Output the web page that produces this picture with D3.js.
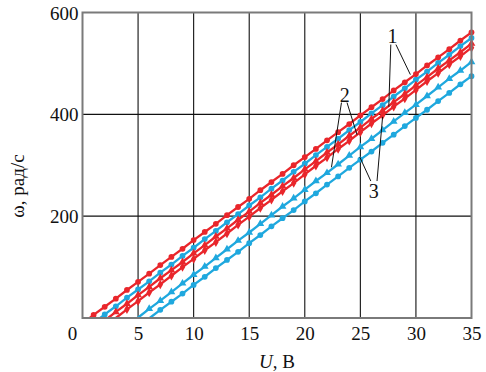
<!DOCTYPE html>
<html><head><meta charset="utf-8">
<script src="https://cdn.jsdelivr.net/npm/d3@7/dist/d3.min.js"></script>
<style>
body{margin:0;background:#fff}
</style>
</head><body>
<svg id="c" width="486" height="372"></svg>
<script>
// ---- data ----
const xTicks = [5, 10, 15, 20, 25, 30, 35];
const yTicks = [200, 400, 600];
const voltage = [1,2,3,4,5,6,7,8,9,10,11,12,13,14,15,16,17,18,19,20,21,22,23,24,25,26,27,28,29,30,31,32,33,34,35];
// speed (rad/s) at each voltage; null = below zero
const red1  = [6,22,38,55,71,87,104,120,136,153,169,185,202,218,234,251,267,283,300,316,332,349,365,381,398,414,430,447,463,479,496,512,528,545,561];
const blue1 = [null,7,23,40,56,72,89,105,122,138,155,171,188,204,221,237,254,270,287,303,320,336,352,369,385,402,418,435,451,468,484,501,517,534,550];
const red2  = [null,null,12,28,45,61,78,94,110,127,143,160,176,193,209,226,242,259,275,292,308,325,341,358,374,391,407,424,440,457,473,490,506,522,539];
const red3  = [null,null,0,17,33,50,66,83,100,116,133,149,166,183,199,216,232,249,265,282,299,315,332,348,365,382,398,415,431,448,465,481,498,514,531];
const blue2 = [null,null,null,null,null,18,34,51,68,85,101,118,135,152,168,185,202,219,235,252,269,285,302,319,336,352,369,386,403,419,436,453,470,486,503];
const blue3 = [null,null,null,null,null,null,16,32,48,65,81,98,114,130,147,163,180,196,212,229,245,262,278,295,311,327,344,360,377,393,409,426,442,459,475];
// voltage where each curve leaves the zero line
const zeroU = {red1:0.65, blue1:1.6, red2:2.3, red3:3.0, blue2:4.95, blue3:6.05};
// curve labels and leader lines (data units)
const labelText = ["1","2","3"];
const labelU = [27.9, 23.6, 26.2];
const labelW = [553, 438, 249];
const leaderFromU = [[27.74,28.2],[23.3,23.8],[25.94,26.5]];
const leaderFromW = [[537,537],[423,423],[269,269]];
const leaderToU = [[27.56,29.5],[22.4,24.7],[24.95,27.0]];
const leaderToW = [[415,478],[296,360],[316,395]];

// ---- chart ----
const FONT = "Liberation Serif";
const svg = d3.select("#c");
const x = d3.scaleLinear().domain([0,35]).range([82.5,471.5]);
const y = d3.scaleLinear().domain([0,600]).range([318,12.5]);
const RED = "#e9262b", BLUE = "#1fa8de";

// grid
const g = svg.append("g");
g.selectAll("line.vx").data(xTicks.slice(0,-1)).join("line")
  .attr("x1",d=>x(d)).attr("x2",d=>x(d)).attr("y1",y(0)).attr("y2",y(600))
  .attr("stroke","#111").attr("stroke-width",1.1);
g.selectAll("line.hy").data(yTicks.slice(0,-1)).join("line")
  .attr("x1",x(0)).attr("x2",x(35)).attr("y1",d=>y(d)).attr("y2",d=>y(d))
  .attr("stroke","#111").attr("stroke-width",1.1);

// axes
const xAxis = d3.axisBottom(x).tickValues(xTicks).tickSize(0).tickPadding(6);
const xa = svg.append("g").attr("transform",`translate(0,${y(0)})`).call(xAxis);
xa.attr("font-family",FONT).attr("font-size",19);
xa.select(".domain").remove();
xa.selectAll("text").attr("dy","0.85em").attr("fill","#111");
const yAxis = d3.axisLeft(y).tickValues(yTicks).tickSize(0).tickPadding(4);
const ya = svg.append("g").attr("transform",`translate(${x(0)},0)`).call(yAxis);
ya.attr("font-family",FONT).attr("font-size",19);
ya.select(".domain").remove();
ya.selectAll("text").attr("dy","0.35em").attr("fill","#111");
svg.append("text").attr("x",x(0)-10).attr("y",y(0)+6).attr("dy","0.85em")
  .attr("text-anchor","middle").attr("font-size",19).attr("font-family",FONT).attr("fill","#111").text("0");

// series
const series = [
  {name:"blue1", vals:blue1, color:BLUE, shape:d3.symbolCircle},
  {name:"blue2", vals:blue2, color:BLUE, shape:d3.symbolTriangle},
  {name:"blue3", vals:blue3, color:BLUE, shape:d3.symbolCircle},
  {name:"red3", vals:red3, color:RED, shape:d3.symbolDiamond},
  {name:"red2", vals:red2, color:RED, shape:d3.symbolTriangle},
  {name:"red1", vals:red1, color:RED, shape:d3.symbolCircle}
];
const line = d3.line().x(d=>x(d[0])).y(d=>y(d[1]));
series.forEach(s=>{
  const pts = voltage.map((u,i)=>[u,s.vals[i]]).filter(p=>p[1]!==null && p[0]>zeroU[s.name]);
  const full = [[zeroU[s.name],0]].concat(pts);
  svg.append("path").datum(full).attr("d",line).attr("fill","none")
    .attr("stroke",s.color).attr("stroke-width",2.3);
  svg.selectAll(null).data(pts).join("path")
    .attr("transform",d=>`translate(${x(d[0])},${y(d[1])})`)
    .attr("d",d3.symbol().type(s.shape).size(26)).attr("fill",s.color);
});

// frame
svg.append("rect").attr("x",x(0)).attr("y",y(600)).attr("width",x(35)-x(0)).attr("height",y(0)-y(600))
  .attr("fill","none").attr("stroke","#7a7a7a").attr("stroke-width",2);

// labels + leaders
labelText.forEach((t,i)=>{
  for(let k=0;k<2;k++){
    svg.append("line").attr("x1",x(leaderFromU[i][k])).attr("y1",y(leaderFromW[i][k]))
      .attr("x2",x(leaderToU[i][k])).attr("y2",y(leaderToW[i][k]))
      .attr("stroke","#111").attr("stroke-width",1);
  }
  svg.append("text").attr("x",x(labelU[i])).attr("y",y(labelW[i])).attr("dy","0.35em")
    .attr("text-anchor","middle").attr("font-size",20).attr("font-family",FONT).attr("fill","#111").text(t);
});

// axis titles
const xt = svg.append("text").attr("x",(x(0)+x(35))/2).attr("y",361).attr("dy","0.35em")
  .attr("text-anchor","middle").attr("font-size",19).attr("font-family",FONT).attr("fill","#111");
xt.append("tspan").attr("font-style","italic").text("U");
xt.append("tspan").text(", В");
svg.append("text").attr("transform","translate(17,186) rotate(-90)").attr("dy","0.35em")
  .attr("text-anchor","middle").attr("font-size",19).attr("font-family",FONT).attr("fill","#111").text("ω, рад/с");
</script>
</body></html>
